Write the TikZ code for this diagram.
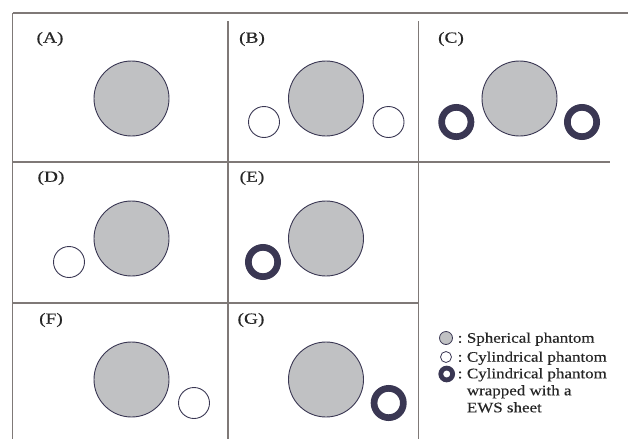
\documentclass[tikz,border=0pt]{standalone}
\usepackage{fontspec}
\setmainfont{Liberation Serif}[FakeStretch=1.17,FakeBold=0.4]
\newfontfamily\panelfont{Liberation Serif}[FakeStretch=1.25,FakeBold=0.4]
\definecolor{framegray}{HTML}{7F7977}
\definecolor{phantomfill}{HTML}{C0C1C3}
\definecolor{navy}{HTML}{3A3753}
\begin{document}
\begin{tikzpicture}[x=1pt,y=-1pt,
  frame/.style={draw=framegray,line width=1.2pt},
  sphere/.style={circle,draw=navy,fill=phantomfill,line width=0.9pt,minimum size=75pt,inner sep=0pt},
  cyl/.style={circle,draw=navy,fill=white,line width=0.9pt,minimum size=31pt,inner sep=0pt},
  ews/.style={circle,draw=navy,line width=6.7pt,minimum size=29.3pt,inner sep=0pt},
  panellabel/.style={font=\panelfont\fontsize{15.5}{15.5}\selectfont,text=black!85,inner sep=0pt},
  legtext/.style={font=\fontsize{14.5}{14.5}\selectfont,text=black!85,inner sep=0pt,anchor=base west},
  legsphere/.style={circle,draw=navy,fill=phantomfill,line width=0.8pt,minimum size=13pt,inner sep=0pt},
  legcyl/.style={circle,draw=navy,fill=white,line width=0.8pt,minimum size=11pt,inner sep=0pt},
  legews/.style={circle,draw=navy,line width=4.8pt,minimum size=11.8pt,inner sep=0pt}]
\useasboundingbox (0,0) rectangle (628,439);

% grid lines
\coordinate (tl) at (12.5,13);
\coordinate (tr) at (628,13);
\coordinate (bl) at (12.5,439);
\draw[frame] (tl) -- (tr);
\draw[frame] (tl) -- (bl);
\coordinate (v1t) at (228,21);  \coordinate (v1b) at (228,439);
\coordinate (v2t) at (418.5,21); \coordinate (v2b) at (418.5,439);
\draw[frame] (v1t) -- (v1b);
\draw[frame] (v2t) -- (v2b);
\coordinate (h1l) at (12.5,162); \coordinate (h1r) at (610,162);
\coordinate (h2l) at (12.5,303); \coordinate (h2r) at (418.5,303);
\draw[frame] (h1l) -- (h1r);
\draw[frame] (h2l) -- (h2r);

% panel labels
\node[panellabel] (la) at (50,39) {(A)};
\node[panellabel] (lb) at (252,39) {(B)};
\node[panellabel] (lc) at (451,39) {(C)};
\node[panellabel] (ld) at (51,178) {(D)};
\node[panellabel] (le) at (252,178) {(E)};
\node[panellabel] (lf) at (51,320) {(F)};
\node[panellabel] (lg) at (251,320) {(G)};

% (A)
\node[sphere] (sa) at (131.5,98.5) {};
% (B)
\node[sphere] (sb) at (326,98.5) {};
\node[cyl] (cb1) at (264,122) {};
\node[cyl] (cb2) at (388.5,122) {};
% (C)
\node[sphere] (sc) at (519.5,98.5) {};
\node[ews] (ec1) at (456.3,122) {};
\node[ews] (ec2) at (582,122) {};
% (D)
\node[sphere] (sd) at (131.5,238.5) {};
\node[cyl] (cd) at (69,262) {};
% (E)
\node[sphere] (se) at (326,238.5) {};
\node[ews] (ee) at (263,262) {};
% (F)
\node[sphere] (sf) at (131.5,379.5) {};
\node[cyl] (cf) at (194,403) {};
% (G)
\node[sphere] (sg) at (326,379.5) {};
\node[ews] (eg) at (388.7,403) {};

% legend
\node[legsphere] (k1) at (446,338) {};
\node[legcyl] (k2) at (446,357) {};
\node[legews] (k3) at (446.7,374) {};
\node[legtext] (c1) at (457.5,342.7) {:};
\node[legtext] (c2) at (457.5,361.7) {:};
\node[legtext] (c3) at (457.5,378.3) {:};
\node[legtext] (t1) at (466.7,342.7) {Spherical phantom};
\node[legtext] (t2) at (466.7,361.7) {Cylindrical phantom};
\node[legtext] (t3) at (466.7,378.3) {Cylindrical phantom};
\node[legtext] (t4) at (466.7,395.3) {wrapped with a};
\node[legtext] (t5) at (466.7,412.3) {EWS sheet};
\end{tikzpicture}
\end{document}
